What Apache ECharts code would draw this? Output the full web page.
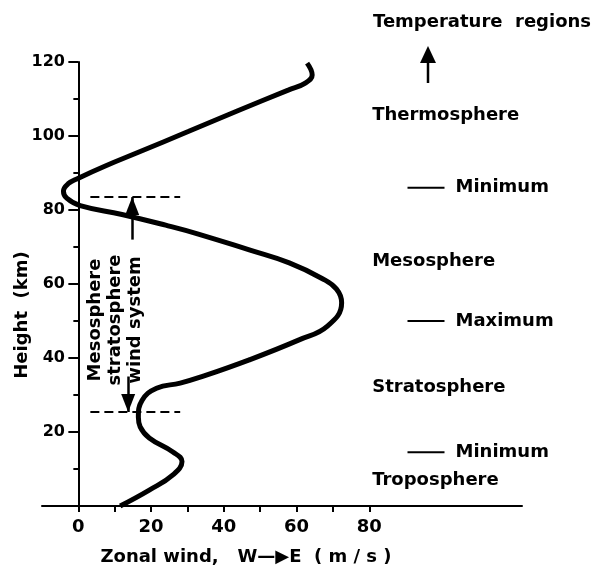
<!DOCTYPE html>
<html>
<head>
<meta charset="utf-8">
<script src="https://cdn.jsdelivr.net/npm/echarts@6/dist/echarts.min.js"></script>
<style>
  html, body { margin: 0; padding: 0; background: #fff; }
  #chart { width: 598px; height: 570px; }
</style>
</head>
<body>
<div id="chart"></div>
<script>
// zonal wind profile (m/s, positive = W->E) against height (km)
const wind = [11.5, 19.5, 26, 28.5, 26, 19.5, 17, 16.5, 17.5, 21.5, 28, 33.5, 47, 60.7, 68.5, 72.4, 71, 67, 58, 47, 33, 24, 12, 0.5, -3.2, -4.1, -2.8, 0, 7.4, 16.5, 30.2, 44, 57.7, 62.4, 64.3, 62.9];
const height = [0, 4.3, 8.4, 12, 14.6, 18.4, 21.4, 24, 28.5, 31.8, 33.2, 34.8, 39.5, 44.9, 48.6, 54.9, 58.6, 61.5, 65.7, 69.2, 73.5, 75.9, 78.8, 81.2, 83.2, 85.1, 87.1, 88.6, 91.9, 95.6, 101.2, 106.9, 112.4, 114.3, 116.5, 119.7];

const xTickValues = [0, 10, 20, 30, 40, 50, 60, 70, 80];
const xLabelValues = [0, 20, 40, 60, 80];

// mesosphere-stratosphere wind system bounds (km) and the wind range of the dashes
const systemBounds = [25.4, 83.5];
const systemWind = [3.3, 28];
const arrowWind = [13.7, 14.8];
const arrowStart = [35, 72];

const regionNames = ['Thermosphere', 'Mesosphere', 'Stratosphere', 'Troposphere'];
const regionHeights = [105.5, 66, 32, 7];
const extremeNames = ['Minimum', 'Maximum', 'Minimum'];
const extremeHeights = [86, 50, 14.5];

const font = 'DejaVu Sans';
const chart = echarts.init(document.getElementById('chart'));

const curve = wind.map((w, i) => [w, height[i]]);

const option = {
    backgroundColor: '#fff',
    animation: false,
    title: {
        text: 'Temperature  regions',
        left: 368,
        top: 8,
        textStyle: { fontFamily: font, fontSize: 18, fontWeight: 'bold', color: '#000' }
    },
    grid: { left: 42, right: 76, top: 62, bottom: 64, containLabel: false, outerBoundsMode: 'none' },
    xAxis: {
        type: 'value',
        min: -10,
        max: 122,
        axisLine: { lineStyle: { color: '#000', width: 2 } },
        axisTick: { customValues: xTickValues, length: 6, lineStyle: { color: '#000', width: 2 } },
        axisLabel: {
            customValues: xLabelValues,
            margin: 12,
            color: '#000',
            fontFamily: font,
            fontSize: 18,
            fontWeight: 'bold'
        },
        splitLine: { show: false }
    },
    yAxis: {
        type: 'value',
        min: 0,
        max: 120,
        interval: 20,
        axisLine: { onZero: true, lineStyle: { color: '#000', width: 2 } },
        axisTick: { length: 10, lineStyle: { color: '#000', width: 2 } },
        minorTick: { show: true, splitNumber: 2, length: 5, lineStyle: { color: '#000', width: 2 } },
        axisLabel: {
            showMinLabel: false,
            margin: -23,
            color: '#000',
            fontFamily: font,
            fontSize: 16,
            fontWeight: 'bold'
        },
        splitLine: { show: false }
    },
    series: [
        {
            type: 'line',
            data: curve,
            smooth: 0.45,
            symbol: 'none',
            clip: false,
            lineStyle: { color: '#000', width: 5 },
            markLine: {
                silent: true,
                symbol: ['none', 'none'],
                label: { show: false },
                lineStyle: { color: '#000', width: 2, type: [9, 5] },
                data: systemBounds.map(h => [
                    { coord: [systemWind[0], h] },
                    { coord: [systemWind[1], h] }
                ])
            }
        },
        {
            // shafts of the wind system arrows
            type: 'line',
            data: [],
            markLine: {
                silent: true,
                symbol: ['none', 'none'],
                label: { show: false },
                lineStyle: { color: '#000', width: 2.5, type: 'solid' },
                data: systemBounds.map((h, i) => [
                    { coord: [arrowWind[i], arrowStart[i]] },
                    { coord: [arrowWind[i], h] }
                ])
            }
        },
        {
            // arrow heads, tip on the bound
            type: 'scatter',
            symbol: 'triangle',
            symbolSize: [14, 18],
            clip: false,
            silent: true,
            itemStyle: { color: '#000', opacity: 1 },
            data: systemBounds.map((h, i) => ({
                value: [arrowWind[i], h],
                symbolRotate: i === 0 ? 180 : 0,
                symbolOffset: [0, i === 0 ? '-50%' : '50%']
            }))
        },
        {
            type: 'scatter',
            symbolSize: 0,
            clip: false,
            silent: true,
            itemStyle: { opacity: 1 },
            data: regionNames.map((n, i) => ({ name: n, value: [80.8, regionHeights[i]] })),
            label: {
                show: true,
                position: 'right',
                distance: 0,
                formatter: '{b}',
                color: '#000',
                fontFamily: font,
                fontSize: 18,
                fontWeight: 'bold'
            }
        },
        {
            type: 'scatter',
            symbol: 'rect',
            symbolSize: [37, 2],
            clip: false,
            silent: true,
            itemStyle: { color: '#000', opacity: 1 },
            data: extremeNames.map((n, i) => ({ name: n, value: [95.6, extremeHeights[i]] })),
            label: {
                show: true,
                position: 'right',
                distance: 11,
                formatter: '{b}',
                color: '#000',
                fontFamily: font,
                fontSize: 18,
                fontWeight: 'bold'
            }
        }
    ],
    graphic: [
        {
            type: 'text',
            x: 22,
            y: 315,
            rotation: Math.PI / 2,
            style: {
                text: 'Height  (km)',
                fill: '#000',
                font: 'bold 18px "DejaVu Sans"',
                align: 'center',
                verticalAlign: 'middle'
            }
        },
        {
            type: 'text',
            x: 246,
            y: 557,
            style: {
                text: 'Zonal wind,   W—▶E  ( m / s )',
                fill: '#000',
                font: 'bold 18px "DejaVu Sans"',
                align: 'center',
                verticalAlign: 'middle'
            }
        },
        {
            type: 'text',
            x: 115,
            y: 320,
            rotation: Math.PI / 2,
            style: {
                text: 'Mesosphere\nstratosphere\nwind system',
                fill: '#000',
                font: 'bold 18px "DejaVu Sans"',
                lineHeight: 20,
                align: 'center',
                verticalAlign: 'middle'
            }
        },
        {
            type: 'group',
            children: [
                { type: 'line', shape: { x1: 428, y1: 58, x2: 428, y2: 83 }, style: { stroke: '#000', lineWidth: 2.5 } },
                { type: 'polygon', shape: { points: [[428, 46], [420, 63], [436, 63]] }, style: { fill: '#000' } }
            ]
        }
    ]
};

chart.setOption(option);
</script>
</body>
</html>
